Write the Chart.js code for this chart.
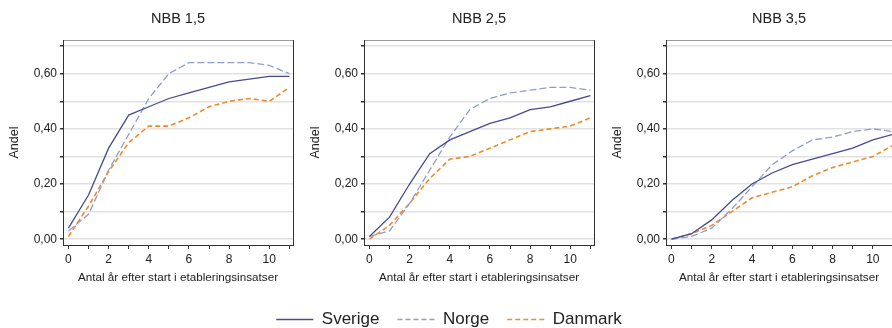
<!DOCTYPE html>
<html>
<head>
<meta charset="utf-8">
<script src="https://cdn.jsdelivr.net/npm/chart.js@4/dist/chart.umd.min.js"></script>
<style>
  html, body { margin: 0; padding: 0; background: #fff; overflow: hidden; width: 892px; height: 328px; }
  #wrap { position: relative; width: 892px; height: 328px; overflow: hidden; }
  canvas { position: absolute; display: block; }
</style>
</head>
<body>
<div id="wrap">
  <canvas id="c1" width="300" height="290" style="left:0px;top:0px"></canvas>
  <canvas id="c2" width="300" height="290" style="left:301px;top:0px"></canvas>
  <canvas id="c3" width="289" height="290" style="left:603px;top:0px"></canvas>
  <canvas id="leg" width="886" height="140" style="left:6px;top:293px"></canvas>
</div>
<script>
// data
var years = [0, 1, 2, 3, 4, 5, 6, 7, 8, 9, 10, 11];
var panelTitles = ['NBB 1,5', 'NBB 2,5', 'NBB 3,5'];
var seriesNames = ['Sverige', 'Norge', 'Danmark'];

var sverige15 = [0.04, 0.16, 0.33, 0.45, 0.48, 0.51, 0.53, 0.55, 0.57, 0.58, 0.59, 0.59];
var norge15   = [0.03, 0.09, 0.25, 0.38, 0.51, 0.60, 0.64, 0.64, 0.64, 0.64, 0.63, 0.60];
var danmark15 = [0.01, 0.12, 0.245, 0.35, 0.41, 0.41, 0.44, 0.48, 0.50, 0.51, 0.50, 0.55];

var sverige25 = [0.01, 0.08, 0.20, 0.31, 0.36, 0.39, 0.42, 0.44, 0.47, 0.48, 0.50, 0.52];
var norge25   = [0.01, 0.03, 0.13, 0.25, 0.37, 0.47, 0.51, 0.53, 0.54, 0.55, 0.55, 0.54];
var danmark25 = [0.00, 0.05, 0.13, 0.22, 0.29, 0.30, 0.33, 0.36, 0.39, 0.40, 0.41, 0.44];

var sverige35 = [0.00, 0.02, 0.07, 0.14, 0.20, 0.24, 0.27, 0.29, 0.31, 0.33, 0.36, 0.38];
var norge35   = [0.00, 0.01, 0.04, 0.11, 0.19, 0.27, 0.32, 0.36, 0.37, 0.39, 0.40, 0.39];
var danmark35 = [0.00, 0.02, 0.05, 0.10, 0.15, 0.17, 0.19, 0.23, 0.26, 0.28, 0.30, 0.34];

var yTicks = [0, 0.1, 0.2, 0.3, 0.4, 0.5, 0.6, 0.7];

var colors = ['#474b8e', '#8f9dcc', '#f28a2a'];
var dashes = [[], [7, 3], [5, 3]];
var legendDashes = [[], [5, 3], [5, 3]];
var widths = [1.3, 1.3, 1.6];

var font = "'Liberation Sans', Arial, sans-serif";
var textColor = '#222';
var axisColor = '#333';

function toPoints(vals) { // coppie x/y per la scala lineare
    return years.map(function (x, i) { return { x: x, y: vals[i] }; });
}

function makeDataset(i, vals) {
    return {
        label: seriesNames[i],
        data: vals ? toPoints(vals) : [],
        borderColor: colors[i],
        backgroundColor: colors[i],
        borderDash: dashes[i],
        borderWidth: widths[i],
        pointRadius: 0,
        pointStyle: 'line',
        tension: 0,
        fill: false
    };
}

// xMax / padRight / rightBorder: il terzo pannello è tagliato dal bordo destro
function createPanel(id, title, sv, no, dk, xMax, padRight, rightBorder) {
    var ctx = document.getElementById(id);
    return new Chart(ctx, {
        type: 'line',
        data: {
            datasets: [makeDataset(0, sv), makeDataset(1, no), makeDataset(2, dk)]
        },
        options: {
            responsive: false,
            animation: false,
            devicePixelRatio: 1,
            layout: { padding: { left: 0, right: padRight, top: 0, bottom: 0 } },
            plugins: { legend: { display: false }, tooltip: { enabled: false } },
            scales: {
                x: {
                    type: 'linear',
                    position: 'bottom',
                    min: -0.27,
                    max: xMax,
                    afterBuildTicks: function (scale) {
                        scale.ticks = years.filter(function (v) { return v <= xMax; })
                            .map(function (v) { return { value: v }; });
                    },
                    afterFit: function (scale) { scale.height = 45; },
                    ticks: {
                        autoSkip: false,
                        maxRotation: 0,
                        padding: 3,
                        color: textColor,
                        font: { family: font, size: 12 },
                        callback: function (v) { return v % 2 === 0 ? String(v) : ''; }
                    },
                    grid: { drawOnChartArea: false, drawTicks: true, tickLength: 4, tickColor: axisColor, lineWidth: 1 },
                    border: { display: true, color: axisColor, width: 1 },
                    title: {
                        display: true,
                        text: 'Antal år efter start i etableringsinsatser',
                        color: textColor,
                        font: { family: font, size: 11.7 },
                        padding: { top: 4, bottom: 5 }
                    }
                },
                xTop: {
                    type: 'linear',
                    position: 'top',
                    display: true,
                    afterFit: function (scale) { scale.height = 40; },
                    ticks: { display: false },
                    grid: { drawOnChartArea: false, drawTicks: false },
                    border: { display: true, color: '#9a9a9a', width: 1 },
                    title: {
                        display: true,
                        text: title,
                        color: textColor,
                        font: { family: font, size: 14.5 },
                        padding: { top: 10, bottom: 12 }
                    }
                },
                y: {
                    type: 'linear',
                    position: 'left',
                    min: -0.021,
                    max: 0.722,
                    afterBuildTicks: function (scale) {
                        scale.ticks = yTicks.map(function (v) { return { value: v }; });
                    },
                    afterFit: function (scale) { scale.width = 63; },
                    ticks: {
                        autoSkip: false,
                        padding: 3,
                        color: textColor,
                        font: { family: font, size: 12 },
                        callback: function (v) {
                            return Math.round(v * 10) % 2 === 0 ? v.toFixed(2).replace('.', ',') : '';
                        }
                    },
                    grid: { color: '#e2e2e2', lineWidth: 1.5, drawTicks: true, tickLength: 3, tickColor: axisColor },
                    border: { display: true, color: axisColor, width: 1 },
                    title: {
                        display: true,
                        text: 'Andel',
                        color: textColor,
                        font: { family: font, size: 12.5 },
                        padding: { top: 7.5, bottom: 0 }
                    }
                },
                yR: {
                    type: 'linear',
                    position: 'right',
                    display: true,
                    afterFit: function (scale) { scale.width = 0; },
                    ticks: { display: false },
                    grid: { drawOnChartArea: false, drawTicks: false },
                    border: { display: rightBorder, color: axisColor, width: 1 }
                }
            }
        }
    });
}

function createLegend(id) { // grafico vuoto usato solo per la legenda comune
    var ctx = document.getElementById(id);
    return new Chart(ctx, {
        type: 'line',
        data: {
            datasets: [makeDataset(0), makeDataset(1), makeDataset(2)]
        },
        options: {
            responsive: false,
            animation: false,
            devicePixelRatio: 1,
            layout: { padding: 0 },
            scales: { x: { display: false }, y: { display: false } },
            plugins: {
                tooltip: { enabled: false },
                legend: {
                    display: true,
                    position: 'top',
                    labels: {
                        usePointStyle: true,
                        pointStyleWidth: 37,
                        padding: 18,
                        color: textColor,
                        font: { family: font, size: 17 },
                        generateLabels: function (chart) {
                            var items = Chart.defaults.plugins.legend.labels.generateLabels(chart);
                            items.forEach(function (it, i) {
                                it.pointStyle = 'line';
                                it.strokeStyle = colors[i];
                                it.lineDash = legendDashes[i];
                                it.lineWidth = 1.4;
                            });
                            return items;
                        }
                    }
                }
            }
        }
    });
}

createPanel('c1', panelTitles[0], sverige15, norge15, danmark15, 11.18, 7, true);
createPanel('c2', panelTitles[1], sverige25, norge25, danmark25, 11.18, 7, true);
createPanel('c3', panelTitles[2], sverige35, norge35, danmark35, 10.95, 0, false);
createLegend('leg');
</script>
</body>
</html>
